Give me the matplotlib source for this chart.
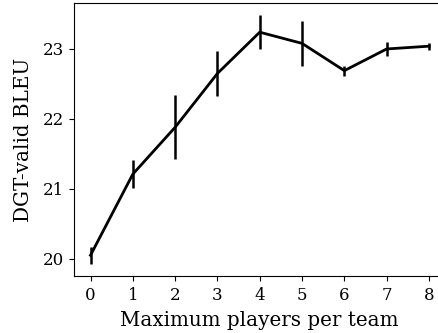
import matplotlib
matplotlib.use("Agg")
import matplotlib.pyplot as plt

# data
players = [0, 1, 2, 3, 4, 5, 6, 7, 8]
bleu = [20.05, 21.21, 21.88, 22.65, 23.24, 23.08, 22.69, 23.00, 23.04]
bleu_err = [0.12, 0.20, 0.46, 0.32, 0.24, 0.32, 0.07, 0.10, 0.05]

plt.rcParams["font.family"] = "DejaVu Serif"

fig = plt.figure(figsize=(4.38, 3.33), dpi=100)
ax = fig.add_axes([0.168, 0.171, 0.85, 0.82])

ax.errorbar(players, bleu, yerr=bleu_err, color="black", linewidth=2,
            elinewidth=1.8, capsize=0)

# right edge of the box falls outside the canvas in the reference
ax.spines["right"].set_visible(False)

ax.set_xticks(players)
ax.set_yticks([20, 21, 22, 23])
ax.tick_params(labelsize=12)
ax.tick_params(axis="x", pad=4.5)
ax.set_xlabel("Maximum players per team", fontsize=14.3, labelpad=5)
ax.set_ylabel("DGT-valid BLEU", fontsize=14.3, labelpad=7)

fig.savefig("out.png", dpi=100)
